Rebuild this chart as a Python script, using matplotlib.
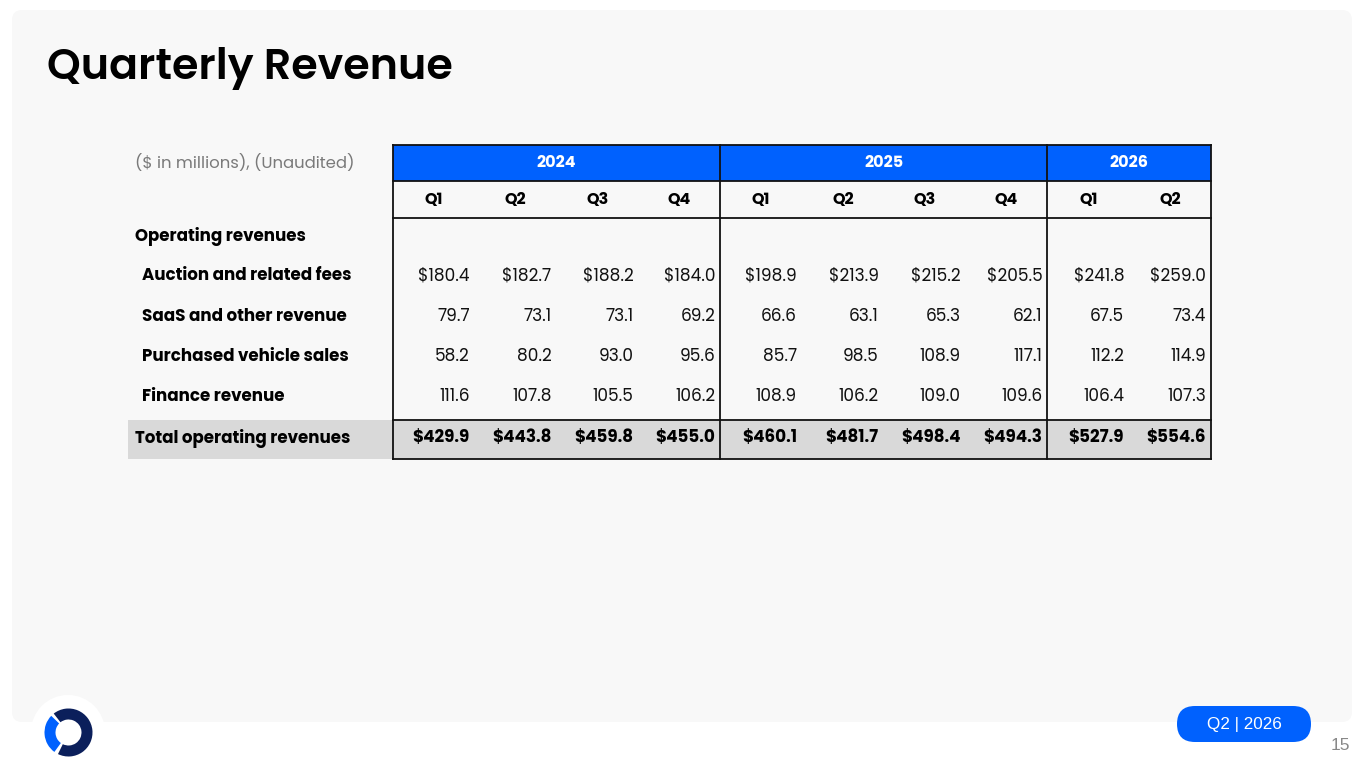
import numpy as np
import matplotlib
matplotlib.use("Agg")
import matplotlib.pyplot as plt
from matplotlib.patches import FancyBboxPatch, Rectangle, Circle, Wedge

# ---- data ----
years = ["2024", "2025", "2026"]
quarters_per_year = [4, 4, 2]
quarters = ["Q1", "Q2", "Q3", "Q4", "Q1", "Q2", "Q3", "Q4", "Q1", "Q2"]
row_labels = ["Auction and related fees", "SaaS and other revenue",
              "Purchased vehicle sales", "Finance revenue"]
auction = [180.4, 182.7, 188.2, 184.0, 198.9, 213.9, 215.2, 205.5, 241.8, 259.0]
saas = [79.7, 73.1, 73.1, 69.2, 66.6, 63.1, 65.3, 62.1, 67.5, 73.4]
purchased = [58.2, 80.2, 93.0, 95.6, 85.7, 98.5, 108.9, 117.1, 112.2, 114.9]
finance = [111.6, 107.8, 105.5, 106.2, 108.9, 106.2, 109.0, 109.6, 106.4, 107.3]
totals = [429.9, 443.8, 459.8, 455.0, 460.1, 481.7, 498.4, 494.3, 527.9, 554.6]

BLUE = "#0061fe"
NAVY = "#0b1f5b"
FONT = ["Poppins", "Open Sans", "DejaVu Sans"]
plt.rcParams['font.family'] = FONT

W, H = 1365, 768
fig = plt.figure(figsize=(W / 100, H / 100), dpi=100)
fig.patch.set_facecolor("white")
ax = fig.add_axes([0, 0, 1, 1])
ax.set_xlim(0, W)
ax.set_ylim(H, 0)
ax.axis("off")

# background panel
ax.add_patch(FancyBboxPatch((12, 10), 1340, 712, boxstyle="round,pad=0,rounding_size=10",
                            facecolor="#f8f8f8", edgecolor="none", zorder=0))

ax.text(47, 69, "Quarterly Revenue", fontsize=30.8, fontweight="semibold", color="black",
        va="center", ha="left")

# table geometry
x_lab = 128
x0, x1 = 393, 1211
ncol = len(quarters)
cw = (x1 - x0) / ncol
y_year, y_q, y_body = 145, 181, 218
y_tot = 420
y_end = 459
FS = 12

ax.add_patch(Rectangle((x0, y_year), x1 - x0, y_q - y_year, facecolor=BLUE,
                       edgecolor="none", zorder=1))
ax.add_patch(Rectangle((x_lab, y_tot), x1 - x_lab, y_end - y_tot, facecolor="#d9d9d9",
                       edgecolor="none", zorder=1))

lw = 1.3
# horizontal lines
for y in [y_year, y_q, y_body, y_tot, y_end]:
    ax.plot([x0, x1], [y, y], color="#111111", lw=lw, zorder=3)
# vertical lines at year boundaries
bounds = np.concatenate([[0], np.cumsum(quarters_per_year)])
for b in bounds:
    xx = x0 + b * cw
    ax.plot([xx, xx], [y_year, y_end], color="#111111", lw=lw, zorder=3)

# year headers
for i, yr in enumerate(years):
    cx = x0 + (bounds[i] + bounds[i + 1]) / 2 * cw
    ax.text(cx, (y_year + y_q) / 2, yr, color="white", fontsize=11.5,
            fontweight="bold", ha="center", va="center", zorder=4)

# quarter headers
for j, q in enumerate(quarters):
    ax.text(x0 + (j + 0.5) * cw, (y_q + y_body) / 2 + 1, q, fontsize=11.5,
            fontweight="bold", ha="center", va="center", zorder=4)

ax.text(135, 163, "($ in millions), (Unaudited)", fontsize=11.85, color="#7a7a7a",
        ha="left", va="center")
ax.text(135, 237, "Operating revenues", fontsize=FS, fontweight="bold",
        ha="left", va="center")

series = [auction, saas, purchased, finance]
row_y = [276, 317, 357, 397]
for k, (lab, vals) in enumerate(zip(row_labels, series)):
    yc = row_y[k]
    ax.text(142, yc, lab, fontsize=FS, fontweight="bold", ha="left", va="center")
    for j, v in enumerate(vals):
        s = f"${v:.1f}" if k == 0 else f"{v:.1f}"
        ax.text(x0 + (j + 1) * cw - 5, yc, s, fontsize=12.2, ha="right", va="center",
                color="#111111", zorder=4)

yc = 438.5
ax.text(135, yc, "Total operating revenues", fontsize=FS, fontweight="bold",
        ha="left", va="center", zorder=4)
for j, v in enumerate(totals):
    ax.text(x0 + (j + 1) * cw - 5, yc, f"${v:.1f}", fontsize=12.1, fontweight="bold",
            ha="right", va="center", zorder=4)

# logo
ax.add_patch(Circle((68, 732), 37, facecolor="white", edgecolor="none", zorder=5))
ax.add_patch(Wedge((68.5, 732.5), 24, -128, 116, width=11, facecolor=NAVY,
                   edgecolor="none", zorder=6))
ax.add_patch(Wedge((68.5, 732.5), 24, 126, 224, width=11, facecolor=BLUE,
                   edgecolor="none", zorder=6))

# badge
ax.add_patch(FancyBboxPatch((1177, 706), 134, 36, boxstyle="round,pad=0,rounding_size=18",
                            facecolor=BLUE, edgecolor="none", zorder=5))
ax.text(1244, 724, "Q2 | 2026", color="white", fontsize=12.3, ha="center", va="center",
        family=["Liberation Sans", "DejaVu Sans"], zorder=6)
ax.text(1340, 746, "15", color="#888888", fontsize=12.5, ha="center", va="center",
        family=["Liberation Sans", "DejaVu Sans"])

fig.savefig("out.png", dpi=100, facecolor="white")
